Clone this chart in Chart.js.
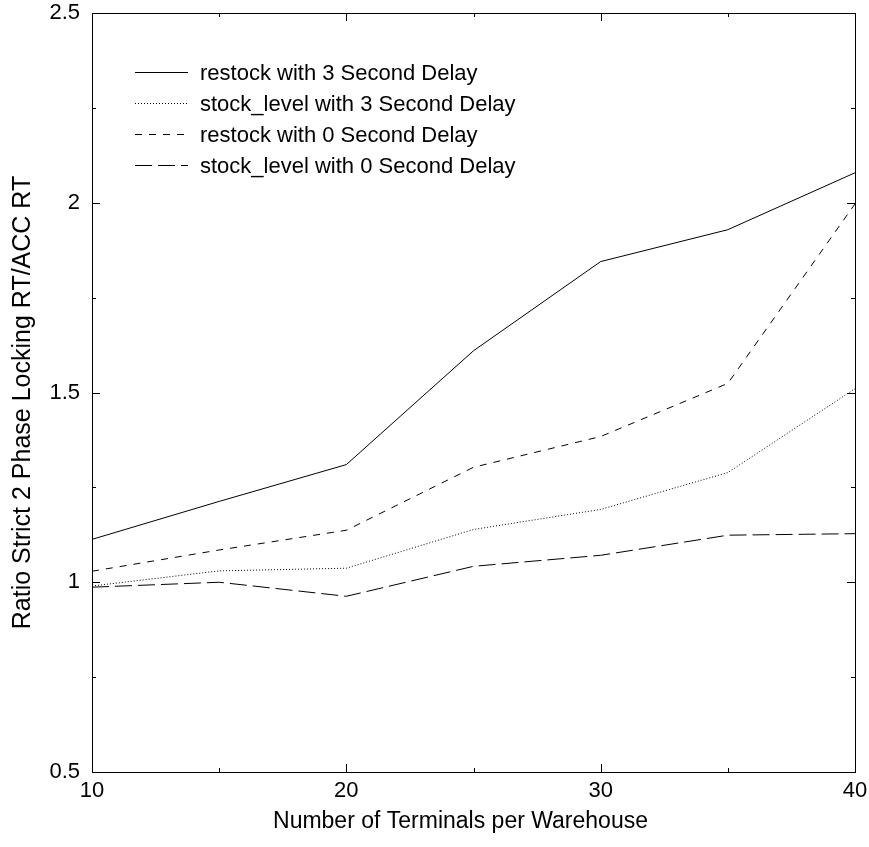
<!DOCTYPE html>
<html>
<head>
<meta charset="utf-8">
<script src="https://cdn.jsdelivr.net/npm/chart.js@4"></script>
<style>
  html, body { margin: 0; padding: 0; background: #fff; }
  #wrap { width: 869px; height: 847px; }
</style>
</head>
<body>
<div id="wrap"><canvas id="graphic" width="869" height="847"></canvas></div>
<script>
const terminals = [10, 15, 20, 25, 30, 35, 40];
const restock3 = [1.113, 1.213, 1.31, 1.61, 1.845, 1.929, 2.079];
const stockLevel3 = [0.99, 1.03, 1.037, 1.139, 1.192, 1.289, 1.51];
const restock0 = [1.029, 1.085, 1.137, 1.303, 1.384, 1.524, 1.997];
const stockLevel0 = [0.987, 1.0, 0.963, 1.042, 1.071, 1.124, 1.128];

const xTicks = [10, 15, 20, 25, 30, 35, 40];
const yTicks = [0.5, 0.75, 1, 1.25, 1.5, 1.75, 2, 2.25, 2.5];

const xTitle = "Number of Terminals per Warehouse";
const yTitle = "Ratio Strict 2 Phase Locking RT/ACC RT";

const FONT = "'Liberation Sans', Arial, Helvetica, sans-serif";

function pts(ys) {
  return terminals.map((t, i) => ({ x: t, y: ys[i] }));
}

// frame + inward tick marks on all four sides
const frameTicks = {
  id: "frameTicks",
  afterDraw(chart) {
    const { ctx, chartArea: a, scales } = chart;
    ctx.save();
    ctx.strokeStyle = "#000";
    ctx.lineWidth = 1;
    ctx.strokeRect(Math.round(a.left) + 0.5, Math.round(a.top) + 0.5,
      Math.round(a.right - a.left), Math.round(a.bottom - a.top));
    ctx.beginPath();
    scales.x.ticks.forEach((t) => {
      const px = Math.round(scales.x.getPixelForValue(t.value)) + 0.5;
      const len = t.value % 10 === 0 ? 8 : 4;
      ctx.moveTo(px, a.bottom); ctx.lineTo(px, a.bottom - len);
      ctx.moveTo(px, a.top); ctx.lineTo(px, a.top + len);
    });
    scales.y.ticks.forEach((t) => {
      const py = Math.round(scales.y.getPixelForValue(t.value)) + 0.5;
      const len = (t.value * 2) % 1 === 0 ? 8 : 4;
      ctx.moveTo(a.left, py); ctx.lineTo(a.left + len, py);
      ctx.moveTo(a.right, py); ctx.lineTo(a.right - len, py);
    });
    ctx.stroke();

    // axis titles, set a little toward the origin like the original
    ctx.fillStyle = "#000";
    ctx.textAlign = "center";
    ctx.textBaseline = "middle";
    ctx.font = "23px " + FONT;
    ctx.fillText(xTitle, (a.left + a.right) / 2 - 13, a.bottom + 50);
    ctx.translate(23, (a.top + a.bottom) / 2 + 10);
    ctx.rotate(-Math.PI / 2);
    ctx.font = "25px " + FONT;
    ctx.fillText(yTitle, 0, 0);
    ctx.restore();
  },
};

// legend drawn inside the plot, top left
const innerLegend = {
  id: "innerLegend",
  afterDraw(chart) {
    const { ctx, chartArea: a } = chart;
    ctx.save();
    ctx.font = "22px " + FONT;
    ctx.textBaseline = "middle";
    ctx.fillStyle = "#000";
    chart.data.datasets.forEach((ds, i) => {
      const yy = Math.round(a.top + 59 + i * 31) + 0.5;
      ctx.strokeStyle = "#000";
      ctx.lineWidth = 1;
      ctx.setLineDash(ds.borderDash || []);
      ctx.beginPath();
      ctx.moveTo(a.left + 43, yy);
      ctx.lineTo(a.left + 96, yy);
      ctx.stroke();
      ctx.setLineDash([]);
      ctx.fillText(ds.label, a.left + 108, yy + 1);
    });
    ctx.restore();
  },
};

const line = (label, data, dash) => ({
  label,
  data: pts(data),
  borderColor: "#000",
  borderWidth: 1,
  borderDash: dash,
  pointRadius: 0,
  fill: false,
  tension: 0,
});

new Chart(document.getElementById("graphic"), {
  type: "line",
  data: {
    datasets: [
      line("restock with 3 Second Delay", restock3, []),
      line("stock_level with 3 Second Delay", stockLevel3, [1, 2]),
      line("restock with 0 Second Delay", restock0, [7, 7]),
      line("stock_level with 0 Second Delay", stockLevel0, [17, 6]),
    ],
  },
  options: {
    responsive: false,
    animation: false,
    layout: { padding: { top: 13, right: 14, left: 0, bottom: 0 } },
    plugins: {
      legend: { display: false },
      tooltip: { enabled: false },
    },
    scales: {
      x: {
        type: "linear",
        min: 10,
        max: 40,
        afterBuildTicks: (s) => { s.ticks = xTicks.map((v) => ({ value: v })); },
        afterFit: (s) => { s.height = 75; s.paddingLeft = 0; s.paddingRight = 0; },
        grid: { display: false, drawTicks: false },
        border: { display: false },
        ticks: {
          color: "#000",
          font: { family: FONT, size: 22 },
          padding: 6,
          maxRotation: 0,
          autoSkip: false,
          callback: (v) => (v % 10 === 0 ? String(v) : ""),
        },
        title: { display: false },
      },
      y: {
        type: "linear",
        min: 0.5,
        max: 2.5,
        afterBuildTicks: (s) => { s.ticks = yTicks.map((v) => ({ value: v })); },
        afterFit: (s) => { s.width = 92; s.paddingTop = 0; s.paddingBottom = 0; },
        grid: { display: false, drawTicks: false },
        border: { display: false },
        ticks: {
          color: "#000",
          font: { family: FONT, size: 22 },
          padding: 12,
          autoSkip: false,
          callback: (v) => ((v * 2) % 1 === 0 ? String(v) : ""),
        },
        title: { display: false },
      },
    },
  },
  plugins: [frameTicks, innerLegend],
});
</script>
</body>
</html>
